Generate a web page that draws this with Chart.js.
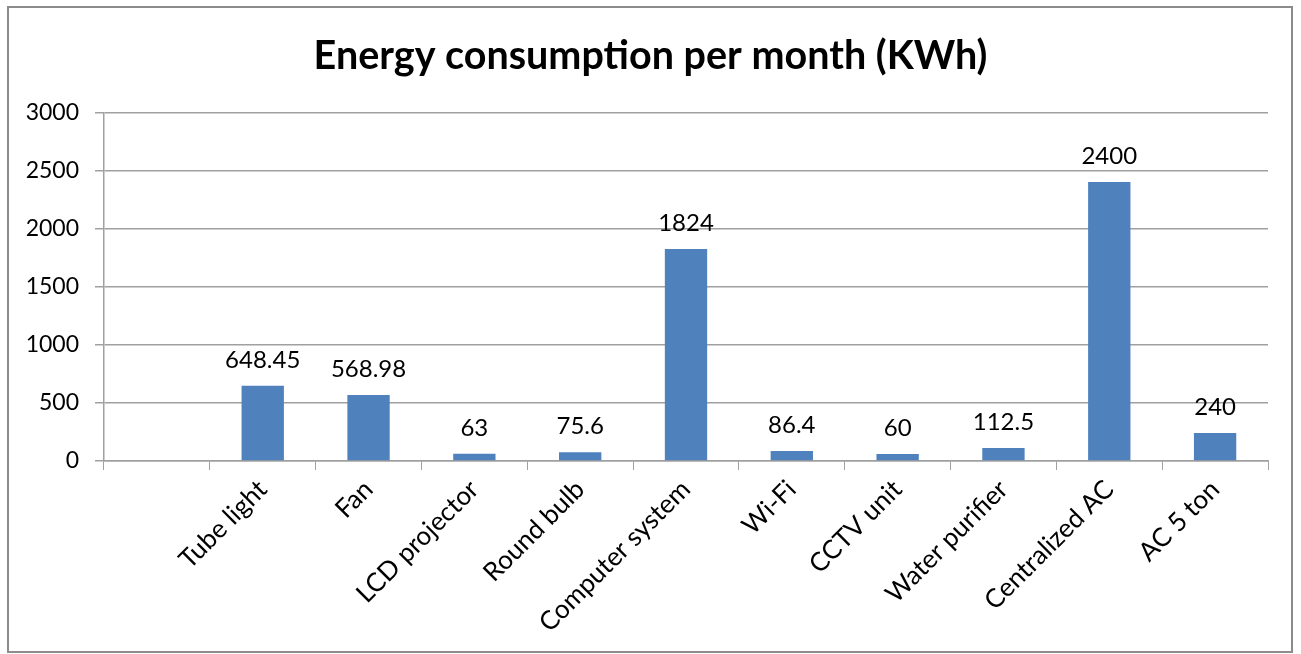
<!DOCTYPE html>
<html>
<head>
<meta charset="utf-8">
<script src="https://cdn.jsdelivr.net/npm/chart.js@4.4.1/dist/chart.umd.min.js"></script>
<style>
  html, body { margin: 0; padding: 0; background: #fff; }
  #wrap { width: 1301px; height: 654px; position: relative; }
</style>
</head>
<body>
<div id="wrap"><canvas id="myChart" width="1301" height="654"></canvas></div>
<script>
// categories (first one is blank in the original sheet)
var categories = ['', 'Tube light', 'Fan', 'LCD projector', 'Round bulb', 'Computer system',
    'Wi-Fi', 'CCTV unit', 'Water purifier', 'Centralized AC', 'AC 5 ton'];
var energyKWh = [null, 648.45, 568.98, 63, 75.6, 1824, 86.4, 60, 112.5, 2400, 240];
var yTicks = [0, 500, 1000, 1500, 2000, 2500, 3000];
var titleText = 'Energy consumption per month (KWh)';

var FONT = 'Lato';

// outer frame like the excel chart border
var framePlugin = {
    id: 'frame',
    beforeDraw: function(chart) {
        var c = chart.ctx;
        c.save();
        c.fillStyle = '#fff';
        c.fillRect(0, 0, chart.width, chart.height);
        c.strokeStyle = '#8c8c8c';
        c.lineWidth = 2;
        c.strokeRect(8, 7, 1284, 645);
        c.restore();
    }
};

// value labels on top of each bar
var valueLabels = {
    id: 'valueLabels',
    afterDatasetsDraw: function(chart) {
        var c = chart.ctx;
        var meta = chart.getDatasetMeta(0);
        c.save();
        c.font = '24px ' + FONT;
        c.fillStyle = '#000';
        c.textAlign = 'center';
        c.textBaseline = 'alphabetic';
        meta.data.forEach(function(bar, i) {
            var v = energyKWh[i];
            if (v === null) return;
            c.fillText(String(v), bar.x, bar.y - 18);
        });
        c.restore();
    }
};

var ctx = document.getElementById('myChart').getContext('2d');
var chart = new Chart(ctx, {
    type: 'bar',
    data: {
        labels: categories,
        datasets: [{
            label: 'Energy',
            backgroundColor: '#4f81bd',
            borderWidth: 0,
            data: energyKWh,
            categoryPercentage: 1.0,
            barPercentage: 0.4
        }]
    },
    options: {
        responsive: false,
        animation: false,
        layout: { padding: { left: 0, right: 0, top: 33, bottom: 0 } },
        plugins: {
            legend: { display: false },
            tooltip: { enabled: false },
            title: {
                display: true,
                text: titleText,
                color: '#000',
                font: { family: FONT, size: 39.5, weight: 'bold' },
                padding: { top: 0, bottom: 32 }
            }
        },
        scales: {
            x: {
                grid: {
                    display: true,
                    drawOnChartArea: false,
                    drawTicks: true,
                    tickLength: 9,
                    color: '#a0a0a0',
                    offset: true
                },
                border: { display: true, color: '#a0a0a0', width: 1.5 },
                ticks: {
                    color: '#000',
                    font: { family: FONT, size: 26 },
                    maxRotation: 45,
                    minRotation: 45,
                    autoSkip: false,
                    padding: 4
                },
                afterFit: function(scale) { scale.height = 193; }
            },
            y: {
                min: 0,
                max: 3000,
                afterBuildTicks: function(scale) {
                    scale.ticks = yTicks.map(function(v) { return { value: v }; });
                },
                grid: {
                    color: '#a0a0a0',
                    lineWidth: 1.5,
                    tickLength: 9
                },
                border: { display: true, color: '#a0a0a0', width: 1.5 },
                ticks: {
                    color: '#000',
                    font: { family: FONT, size: 23 },
                    padding: 16,
                    callback: function(v) { return String(v); }
                },
                afterFit: function(scale) { scale.width = 104; }
            },
            // empty spacer on the right so the title stays centred on the frame
            spacer: {
                type: 'linear',
                position: 'right',
                grid: { display: false },
                border: { display: false },
                ticks: { display: false },
                afterFit: function(scale) { scale.width = 33; }
            }
        }
    },
    plugins: [framePlugin, valueLabels]
});
</script>
</body>
</html>
